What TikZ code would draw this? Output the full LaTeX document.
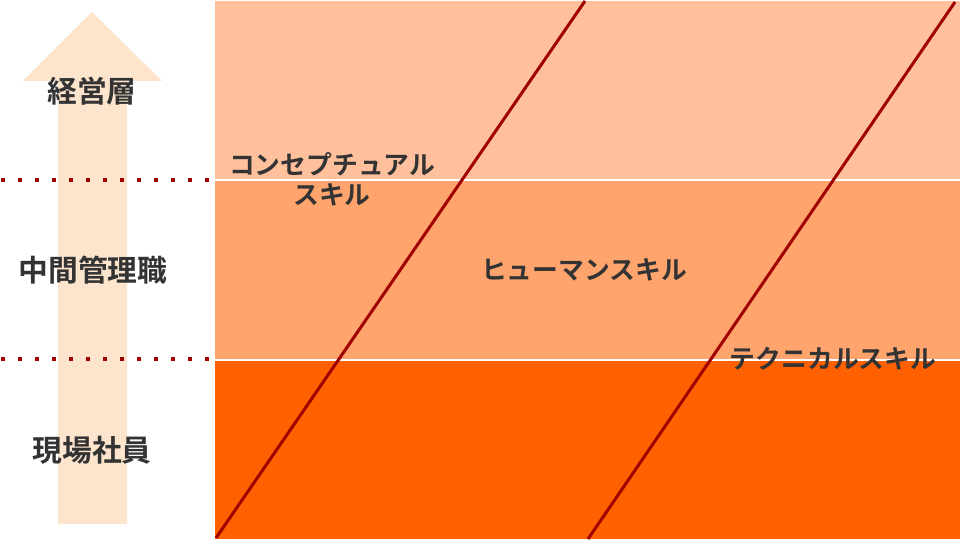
\documentclass[tikz,border=0pt]{standalone}
\usepackage{fontspec}
\setmainfont{Noto Sans CJK JP}[BoldFont={* Bold}]
\definecolor{bandtop}{HTML}{FFC09B}
\definecolor{bandmid}{HTML}{FFA46C}
\definecolor{bandlow}{HTML}{FF6000}
\definecolor{skline}{HTML}{A00000}
\definecolor{arrowfill}{HTML}{FCE4CD}
\definecolor{txt}{HTML}{333333}
\tikzset{
  level/.style={text=txt, font=\fontsize{29.8}{34}\selectfont\bfseries, inner sep=0pt},
  skill/.style={text=txt, font=\fontsize{25.8}{32}\selectfont\bfseries, inner sep=0pt, align=center},
  skillline/.style={draw=skline, line width=3pt},
  sep/.style={draw=skline, line width=4pt, dash pattern=on 4pt off 13pt},
}
\begin{document}
\begin{tikzpicture}[x=1pt,y=-1pt]
\useasboundingbox (0,0) rectangle (960,540);
\fill[white] (0,0) rectangle (960,540);
% bands
\fill[bandtop] (215,1) rectangle (960,179);
\fill[bandmid] (215,181) rectangle (960,359);
\fill[bandlow] (215,361) rectangle (960,539);
% arrow
\fill[arrowfill] (58,524) -- (58,81) -- (23,81) -- (92,12) -- (162,81) -- (127,81) -- (127,524) -- cycle;
% dotted separators
\coordinate (d1s) at (1,180); \coordinate (d1e) at (213,180);
\coordinate (d2s) at (1,359); \coordinate (d2e) at (213,359);
\draw[sep] (d1s) -- (d1e);
\draw[sep] (d2s) -- (d2e);
% diagonal lines
\coordinate (l1a) at (216,538); \coordinate (l1b) at (585,1);
\coordinate (l2a) at (588,539); \coordinate (l2b) at (955,2);
\draw[skillline] (l1a) -- (l1b);
\draw[skillline] (l2a) -- (l2b);
% level labels
\node[level] (keiei) at (92,91) {経営層};
\node[level] (chukan) at (93,270) {中間管理職};
\node[level] (genba) at (92,450) {現場社員};
% skill labels
\node[skill] (concept) at (332,179) {コンセプチュアル\\[-2pt]スキル};
\node[skill] (human) at (584,270) {ヒューマンスキル};
\node[skill] (tech) at (833,359) {テクニカルスキル};
\end{tikzpicture}
\end{document}
